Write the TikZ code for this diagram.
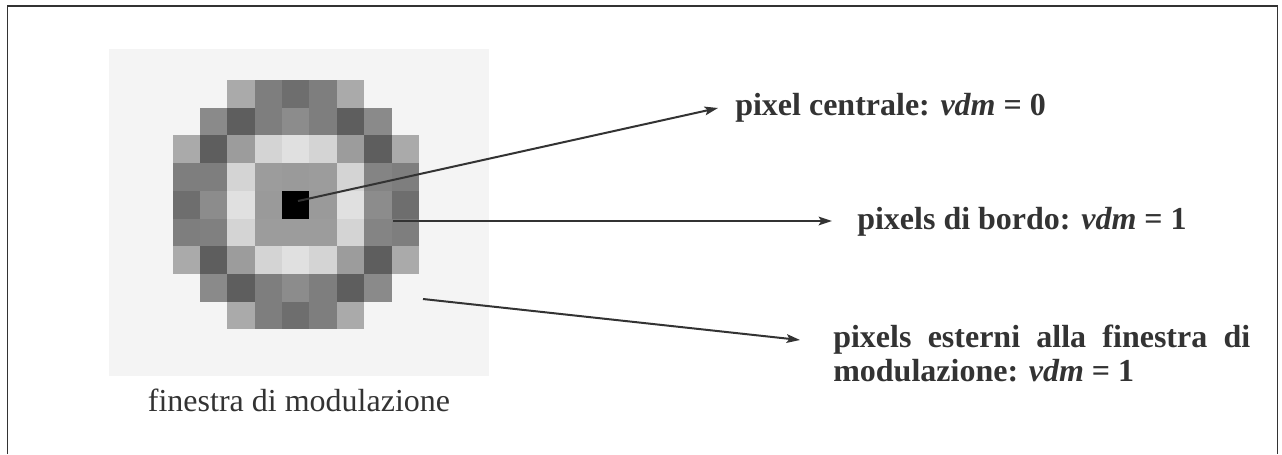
\documentclass[tikz,border=0pt]{standalone}
\usepackage{fontspec}
\setmainfont{Liberation Serif}
\usetikzlibrary{arrows.meta}
\definecolor{ink}{HTML}{333333}
\definecolor{panel}{HTML}{F4F4F4}
\tikzset{
  frameline/.style={draw=ink, line width=1.1pt},
  arr/.style={draw=ink, line width=1.5pt, -{Stealth[length=10pt,width=6.5pt,inset=2pt]}},
  lbl/.style={inner sep=0pt, text=ink, font=\fontsize{24}{25.5}\selectfont\bfseries},
  captxt/.style={inner sep=0pt, text=ink, font=\fontsize{24}{25.5}\selectfont},
}
\begin{document}
\begin{tikzpicture}[x=0.75pt, y=-0.75pt]
\useasboundingbox (0,0) rectangle (1282,454);
% frame (open at the bottom)
\draw[frameline] (7.5,454) -- (7.5,6) -- (1277.5,6) -- (1277.5,454);
% panel
\fill[panel] (109,49) rectangle (489,376);
% pixel grid
\foreach \row [count=\r from 0] in {
 {-1,-1,170,126,110,126,170,-1,-1},
 {-1,138,94,126,140,126,94,138,-1},
 {170,94,156,212,224,212,156,94,170},
 {126,126,212,156,154,156,212,132,126},
 {110,140,224,154,0,154,224,140,110},
 {126,128,212,156,156,156,212,132,126},
 {170,94,156,212,224,212,156,94,170},
 {-1,138,94,126,140,126,94,138,-1},
 {-1,-1,170,126,110,126,170,-1,-1}}{
  \foreach \v [count=\c from 0] in \row {
    \ifnum\v>-1
      \definecolor{cellc}{RGB}{\v,\v,\v}
      \fill[cellc] ({172.7+27.35*\c},{80+27.7*\r}) rectangle ({172.7+27.35*(\c+1)},{80+27.7*(\r+1)});
    \fi
  }
}
% labels
\node[lbl, anchor=base west] (t1) at (735,115) {pixel centrale: \textit{vdm} = 0};
\node[lbl, anchor=base west] (t2) at (857,229) {pixels di bordo: \textit{vdm} = 1};
\node[lbl, anchor=base west, text width=312.75pt, align=justify] (t3) at (833,347)
  {pixels esterni alla finestra di\linebreak modulazione: \textit{vdm} = 1};
\node[captxt, anchor=base] (capt) at (299,411) {finestra di modulazione};
% connector ends
\coordinate (s1) at (298,201);
\coordinate (e1) at (718,108);
\coordinate (s2) at (393,221);
\coordinate (e2) at (832,221);
\coordinate (s3) at (423,299);
\coordinate (e3) at (800,340);
\draw[arr] (s1) -- (e1);
\draw[arr] (s2) -- (e2);
\draw[arr] (s3) -- (e3);
\end{tikzpicture}
\end{document}
